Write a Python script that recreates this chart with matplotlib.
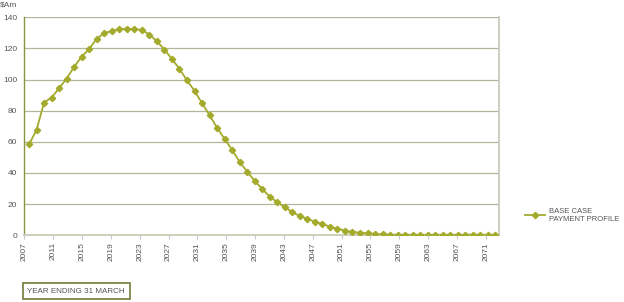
import matplotlib.pyplot as plt
import numpy as np

plt.rcParams["font.family"] = ["Liberation Sans", "DejaVu Sans"]

# payment profile, $A million, one value per period
payments = [
    58.3, 67.6, 85.2, 88.4, 94.4, 100.6, 108.1, 114.7, 119.5, 126.3,
    129.7, 131.2, 132.3, 132.7, 132.3, 131.9, 128.8, 124.6, 119.2, 113.2,
    106.8, 99.5, 92.7, 84.8, 77.1, 69.1, 61.8, 54.8, 47.1, 40.9,
    34.9, 29.7, 24.8, 21.2, 18.0, 14.8, 12.4, 10.5, 8.7, 7.3,
    5.5, 4.3, 3.0, 2.3, 1.5, 1.3, 0.8, 0.5, 0.4, 0.3,
    0.3, 0.3, 0.3, 0.3, 0.3, 0.3, 0.3, 0.3, 0.3, 0.4,
    0.3, 0.3, 0.3,
]
year_ticks = list(range(2007, 2072, 4))
y_ticks = [0, 20, 40, 60, 80, 100, 120, 140]

line_col = "#a3aa2c"
grid_col = "#b3b79a"
text_col = "#555555"

fig = plt.figure(figsize=(6.24, 3.02), dpi=100)
ax = fig.add_axes([0.039, 0.221, 0.761, 0.722])

idx = np.arange(len(payments))
ax.plot(idx, payments, color=line_col, lw=1.3, marker="D", ms=3.2,
        mec=line_col, mfc=line_col, label="BASE CASE\nPAYMENT PROFILE",
        zorder=3)

ax.set_xlim(-0.62, 62.5)
ax.set_ylim(0, 140)
ax.set_yticks(y_ticks)
ax.yaxis.grid(True, color=grid_col, lw=0.9)
ax.set_axisbelow(True)
ax.tick_params(axis="y", length=0, labelsize=6, colors=text_col, pad=5)
ax.set_xticks([])

ax.spines["top"].set_visible(False)
ax.spines["left"].set_color("#8c9440")
ax.spines["left"].set_linewidth(1.0)
ax.spines["right"].set_color("#c4c6b4")
ax.spines["right"].set_linewidth(1.2)
ax.spines["bottom"].set_color("#cfd1bd")
ax.spines["bottom"].set_linewidth(1.5)

# year labels on their own scale along the bottom
axy = ax.twiny()
axy.xaxis.set_ticks_position("bottom")
axy.xaxis.set_label_position("bottom")
axy.set_xlim(2007, 2072.87)
axy.set_xticks(year_ticks)
axy.set_xticklabels([str(y) for y in year_ticks], rotation=90)
axy.tick_params(axis="x", length=3, labelsize=6, pad=2,
                colors="#c8c8c8", labelcolor=text_col)
for s in axy.spines.values():
    s.set_visible(False)

fig.text(0.0, 0.983, "$Am", fontsize=6, color=text_col, va="center")

leg = ax.legend(loc="center left", bbox_to_anchor=(1.04, 0.09), frameon=False,
                fontsize=5.5, handlelength=2.6, labelcolor=text_col,
                handletextpad=0.5)

fig.text(0.044, 0.0355, "YEAR ENDING 31 MARCH", fontsize=5.8, color=text_col,
         va="center", ha="left",
         bbox=dict(boxstyle="square,pad=0.55", fc="white", ec="#6e7c3c",
                   lw=1.2))

fig.savefig("out.png", dpi=100)
